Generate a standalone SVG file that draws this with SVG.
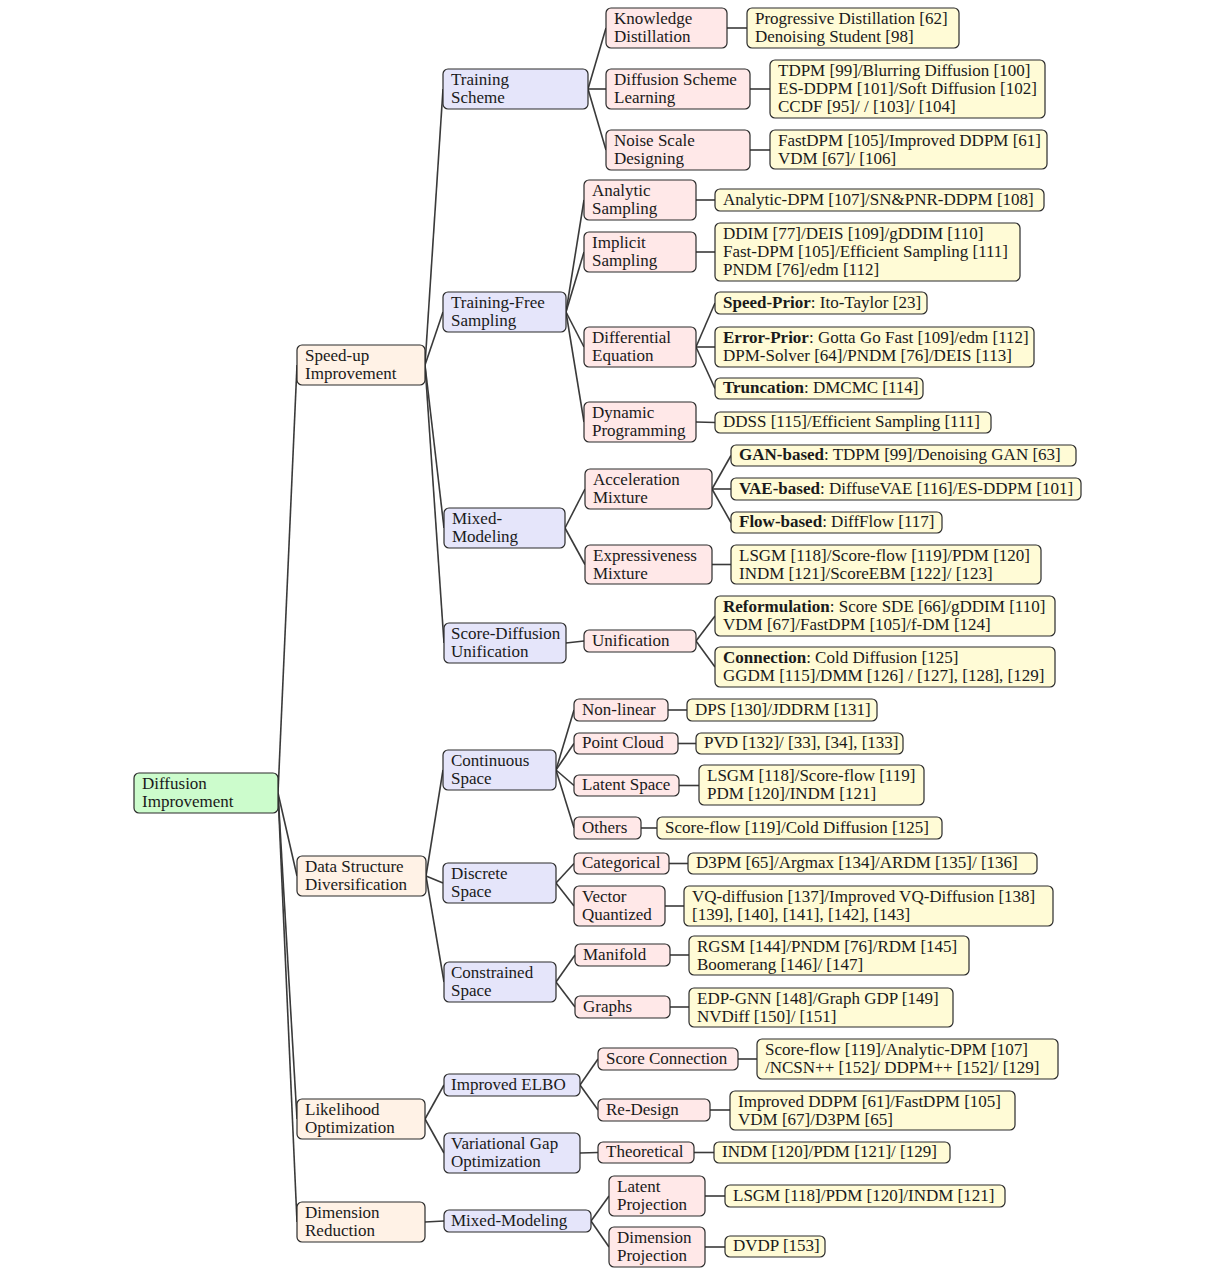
<svg xmlns="http://www.w3.org/2000/svg" width="1211" height="1274" viewBox="0 0 1211 1274">
<style>
rect{stroke:#2b2b2b;stroke-width:1.2}
.r0{fill:#ccfccc}.r1{fill:#fff2e6}.r2{fill:#e5e5fa}.r3{fill:#ffe8e8}.r4{fill:#fffbd6}
text{font-family:"Liberation Serif","Times New Roman",serif;font-size:17px;fill:#1a1a1a}
.b{font-weight:bold}
#edges line{stroke:#3a3a3a;stroke-width:1.6}
</style>
<rect x="0" y="0" width="1211" height="1274" fill="#ffffff" style="stroke:none"/>
<g id="edges">
<line x1="278" y1="793" x2="297" y2="365"/>
<line x1="278" y1="793" x2="297" y2="876"/>
<line x1="278" y1="793" x2="297" y2="1119"/>
<line x1="278" y1="793" x2="297" y2="1222"/>
<line x1="425" y1="365" x2="443" y2="89"/>
<line x1="425" y1="365" x2="443" y2="312"/>
<line x1="425" y1="365" x2="444" y2="528"/>
<line x1="425" y1="365" x2="444" y2="643"/>
<line x1="588" y1="89" x2="606" y2="28"/>
<line x1="588" y1="89" x2="606" y2="89"/>
<line x1="588" y1="89" x2="606" y2="150"/>
<line x1="727" y1="28" x2="747" y2="28"/>
<line x1="750" y1="89" x2="770" y2="89"/>
<line x1="750" y1="150" x2="770" y2="150"/>
<line x1="566" y1="312" x2="584" y2="200"/>
<line x1="566" y1="312" x2="584" y2="252"/>
<line x1="566" y1="312" x2="584" y2="347"/>
<line x1="566" y1="312" x2="584" y2="422"/>
<line x1="696" y1="200" x2="715" y2="200"/>
<line x1="696" y1="252" x2="715" y2="252"/>
<line x1="696" y1="347" x2="715" y2="303"/>
<line x1="696" y1="347" x2="715" y2="347"/>
<line x1="696" y1="347" x2="715" y2="388.5"/>
<line x1="696" y1="422" x2="715" y2="422.5"/>
<line x1="565" y1="528" x2="585" y2="489"/>
<line x1="565" y1="528" x2="585" y2="564.5"/>
<line x1="712" y1="489" x2="731" y2="455.5"/>
<line x1="712" y1="489" x2="731" y2="489"/>
<line x1="712" y1="489" x2="731" y2="522.5"/>
<line x1="712" y1="564.5" x2="731" y2="564.5"/>
<line x1="566" y1="643" x2="584" y2="641"/>
<line x1="696" y1="641" x2="715" y2="616"/>
<line x1="696" y1="641" x2="715" y2="667"/>
<line x1="426" y1="876" x2="443" y2="770"/>
<line x1="426" y1="876" x2="443" y2="883"/>
<line x1="426" y1="876" x2="444" y2="982"/>
<line x1="556" y1="770" x2="574" y2="710"/>
<line x1="556" y1="770" x2="574" y2="743.5"/>
<line x1="556" y1="770" x2="574" y2="785.5"/>
<line x1="556" y1="770" x2="574" y2="828"/>
<line x1="668" y1="710" x2="687" y2="710"/>
<line x1="678" y1="743.5" x2="696" y2="743.5"/>
<line x1="678" y1="785.5" x2="699" y2="785.5"/>
<line x1="641" y1="828" x2="657" y2="828"/>
<line x1="556" y1="883" x2="574" y2="863.5"/>
<line x1="556" y1="883" x2="574" y2="906"/>
<line x1="668" y1="863.5" x2="688" y2="863.5"/>
<line x1="665" y1="906" x2="684" y2="906"/>
<line x1="556" y1="982" x2="575" y2="955"/>
<line x1="556" y1="982" x2="575" y2="1007"/>
<line x1="670" y1="955" x2="689" y2="955"/>
<line x1="670" y1="1007" x2="689" y2="1007"/>
<line x1="425" y1="1119" x2="444" y2="1085"/>
<line x1="425" y1="1119" x2="444" y2="1153"/>
<line x1="580" y1="1085" x2="598" y2="1059"/>
<line x1="580" y1="1085" x2="598" y2="1110"/>
<line x1="738" y1="1059" x2="757" y2="1059"/>
<line x1="710" y1="1110" x2="730" y2="1110"/>
<line x1="580" y1="1153" x2="598" y2="1152.5"/>
<line x1="694" y1="1152.5" x2="714" y2="1152.5"/>
<line x1="425" y1="1222" x2="444" y2="1221"/>
<line x1="591" y1="1221" x2="609" y2="1196"/>
<line x1="591" y1="1221" x2="609" y2="1247"/>
<line x1="705" y1="1196" x2="725" y2="1196"/>
<line x1="705" y1="1247" x2="725" y2="1247"/>
</g>

<g id="root"><rect class="r0" x="134" y="773" width="144" height="40" rx="5"/><text x="142" y="788.5">Diffusion</text><text x="142" y="806.5">Improvement</text></g>

<g id="speedup"><rect class="r1" x="297" y="345" width="128" height="40" rx="5"/><text x="305" y="360.5">Speed-up</text><text x="305" y="378.5">Improvement</text></g>
<g id="datastructure"><rect class="r1" x="297" y="856" width="129" height="40" rx="5"/><text x="305" y="871.5">Data Structure</text><text x="305" y="889.5">Diversification</text></g>
<g id="likelihood"><rect class="r1" x="297" y="1099" width="128" height="40" rx="5"/><text x="305" y="1114.5">Likelihood</text><text x="305" y="1132.5">Optimization</text></g>
<g id="dimreduction"><rect class="r1" x="297" y="1202" width="128" height="40" rx="5"/><text x="305" y="1217.5">Dimension</text><text x="305" y="1235.5">Reduction</text></g>

<g id="trainingscheme"><rect class="r2" x="443" y="69" width="145" height="40" rx="5"/><text x="451" y="84.5">Training</text><text x="451" y="102.5">Scheme</text></g>
<g id="trainingfree"><rect class="r2" x="443" y="292" width="123" height="40" rx="5"/><text x="451" y="307.5">Training-Free</text><text x="451" y="325.5">Sampling</text></g>
<g id="mixedmodeling"><rect class="r2" x="444" y="508" width="121" height="40" rx="5"/><text x="452" y="523.5">Mixed-</text><text x="452" y="541.5">Modeling</text></g>
<g id="scorediffusion"><rect class="r2" x="444" y="623" width="122" height="40" rx="5"/><text x="451" y="638.5">Score-Diffusion</text><text x="451" y="656.5">Unification</text></g>
<g id="continuous"><rect class="r2" x="443" y="750" width="113" height="40" rx="5"/><text x="451" y="765.5">Continuous</text><text x="451" y="783.5">Space</text></g>
<g id="discrete"><rect class="r2" x="443" y="863" width="113" height="40" rx="5"/><text x="451" y="878.5">Discrete</text><text x="451" y="896.5">Space</text></g>
<g id="constrained"><rect class="r2" x="444" y="962" width="112" height="40" rx="5"/><text x="451" y="977.5">Constrained</text><text x="451" y="995.5">Space</text></g>
<g id="improvedelbo"><rect class="r2" x="444" y="1074" width="136" height="22" rx="5"/><text x="451" y="1089.5">Improved ELBO</text></g>
<g id="variationalgap"><rect class="r2" x="444" y="1133" width="136" height="40" rx="5"/><text x="451" y="1148.5">Variational Gap</text><text x="451" y="1166.5">Optimization</text></g>
<g id="mixedmodeling2"><rect class="r2" x="444" y="1210" width="147" height="22" rx="5"/><text x="451" y="1225.5">Mixed-Modeling</text></g>

<g id="knowledge"><rect class="r3" x="606" y="8" width="121" height="40" rx="5"/><text x="614" y="23.5">Knowledge</text><text x="614" y="41.5">Distillation</text></g>
<g id="diffscheme"><rect class="r3" x="606" y="69" width="144" height="40" rx="5"/><text x="614" y="84.5">Diffusion Scheme</text><text x="614" y="102.5">Learning</text></g>
<g id="noisescale"><rect class="r3" x="606" y="130" width="144" height="40" rx="5"/><text x="614" y="145.5">Noise Scale</text><text x="614" y="163.5">Designing</text></g>
<g id="analytic"><rect class="r3" x="584" y="180" width="112" height="40" rx="5"/><text x="592" y="195.5">Analytic</text><text x="592" y="213.5">Sampling</text></g>
<g id="implicit"><rect class="r3" x="584" y="232" width="112" height="40" rx="5"/><text x="592" y="247.5">Implicit</text><text x="592" y="265.5">Sampling</text></g>
<g id="differential"><rect class="r3" x="584" y="327" width="112" height="40" rx="5"/><text x="592" y="342.5">Differential</text><text x="592" y="360.5">Equation</text></g>
<g id="dynamic"><rect class="r3" x="584" y="402" width="112" height="40" rx="5"/><text x="592" y="417.5">Dynamic</text><text x="592" y="435.5">Programming</text></g>
<g id="acceleration"><rect class="r3" x="585" y="469" width="127" height="40" rx="5"/><text x="593" y="484.5">Acceleration</text><text x="593" y="502.5">Mixture</text></g>
<g id="expressiveness"><rect class="r3" x="585" y="545" width="127" height="39" rx="5"/><text x="593" y="560.5">Expressiveness</text><text x="593" y="578.5">Mixture</text></g>
<g id="unification"><rect class="r3" x="584" y="630" width="112" height="22" rx="5"/><text x="592" y="645.5">Unification</text></g>
<g id="nonlinear"><rect class="r3" x="574" y="699" width="94" height="22" rx="5"/><text x="582" y="714.5">Non-linear</text></g>
<g id="pointcloud"><rect class="r3" x="574" y="733" width="104" height="21" rx="5"/><text x="582" y="748">Point Cloud</text></g>
<g id="latentspace"><rect class="r3" x="574" y="775" width="105" height="21" rx="5"/><text x="582" y="790">Latent Space</text></g>
<g id="others"><rect class="r3" x="574" y="817" width="67" height="22" rx="5"/><text x="582" y="832.5">Others</text></g>
<g id="categorical"><rect class="r3" x="574" y="853" width="95" height="21" rx="5"/><text x="582" y="868">Categorical</text></g>
<g id="vectorquantized"><rect class="r3" x="574" y="886" width="91" height="40" rx="5"/><text x="582" y="901.5">Vector</text><text x="582" y="919.5">Quantized</text></g>
<g id="manifold"><rect class="r3" x="575" y="944" width="95" height="22" rx="5"/><text x="583" y="959.5">Manifold</text></g>
<g id="graphs"><rect class="r3" x="575" y="996" width="95" height="22" rx="5"/><text x="583" y="1011.5">Graphs</text></g>
<g id="scoreconnection"><rect class="r3" x="598" y="1048" width="140" height="22" rx="5"/><text x="606" y="1063.5">Score Connection</text></g>
<g id="redesign"><rect class="r3" x="598" y="1099" width="112" height="22" rx="5"/><text x="606" y="1114.5">Re-Design</text></g>
<g id="theoretical"><rect class="r3" x="598" y="1142" width="96" height="21" rx="5"/><text x="606" y="1157">Theoretical</text></g>
<g id="latentprojection"><rect class="r3" x="609" y="1176" width="96" height="40" rx="5"/><text x="617" y="1191.5">Latent</text><text x="617" y="1209.5">Projection</text></g>
<g id="dimprojection"><rect class="r3" x="609" y="1227" width="96" height="40" rx="5"/><text x="617" y="1242.5">Dimension</text><text x="617" y="1260.5">Projection</text></g>

<g id="leaf-kd"><rect class="r4" x="747" y="8" width="212" height="40" rx="5"/><text x="755" y="23.5">Progressive Distillation [62]</text><text x="755" y="41.5">Denoising Student [98]</text></g>
<g id="leaf-dsl"><rect class="r4" x="770" y="60" width="275" height="58" rx="5"/><text x="778" y="75.5">TDPM [99]/Blurring Diffusion [100]</text><text x="778" y="93.5">ES-DDPM [101]/Soft Diffusion [102]</text><text x="778" y="111.5">CCDF [95]/ / [103]/ [104]</text></g>
<g id="leaf-nsd"><rect class="r4" x="770" y="130" width="277" height="39" rx="5"/><text x="778" y="145.5">FastDPM [105]/Improved DDPM [61]</text><text x="778" y="163.5">VDM [67]/ [106]</text></g>
<g id="leaf-as"><rect class="r4" x="715" y="189" width="329" height="22" rx="5"/><text x="723" y="204.5">Analytic-DPM [107]/SN&amp;PNR-DDPM [108]</text></g>
<g id="leaf-is"><rect class="r4" x="715" y="223" width="305" height="58" rx="5"/><text x="723" y="238.5">DDIM [77]/DEIS [109]/gDDIM [110]</text><text x="723" y="256.5">Fast-DPM [105]/Efficient Sampling [111]</text><text x="723" y="274.5">PNDM [76]/edm [112]</text></g>
<g id="leaf-sp"><rect class="r4" x="715" y="292" width="212" height="22" rx="5"/><text x="723" y="307.5"><tspan class="b">Speed-Prior</tspan>: Ito-Taylor [23]</text></g>
<g id="leaf-ep"><rect class="r4" x="715" y="327" width="319" height="40" rx="5"/><text x="723" y="342.5"><tspan class="b">Error-Prior</tspan>: Gotta Go Fast [109]/edm [112]</text><text x="723" y="360.5">DPM-Solver [64]/PNDM [76]/DEIS [113]</text></g>
<g id="leaf-tr"><rect class="r4" x="715" y="378" width="208" height="21" rx="5"/><text x="723" y="393"><tspan class="b">Truncation</tspan>: DMCMC [114]</text></g>
<g id="leaf-dp"><rect class="r4" x="715" y="412" width="276" height="21" rx="5"/><text x="723" y="427">DDSS [115]/Efficient Sampling [111]</text></g>
<g id="leaf-gan"><rect class="r4" x="731" y="445" width="345" height="21" rx="5"/><text x="739" y="460"><tspan class="b">GAN-based</tspan>: TDPM [99]/Denoising GAN [63]</text></g>
<g id="leaf-vae"><rect class="r4" x="731" y="478" width="350" height="22" rx="5"/><text x="739" y="493.5"><tspan class="b">VAE-based</tspan>: DiffuseVAE [116]/ES-DDPM [101]</text></g>
<g id="leaf-flow"><rect class="r4" x="731" y="512" width="211" height="21" rx="5"/><text x="739" y="527"><tspan class="b">Flow-based</tspan>: DiffFlow [117]</text></g>
<g id="leaf-em"><rect class="r4" x="731" y="545" width="310" height="39" rx="5"/><text x="739" y="560.5">LSGM [118]/Score-flow [119]/PDM [120]</text><text x="739" y="578.5">INDM [121]/ScoreEBM [122]/ [123]</text></g>
<g id="leaf-ref"><rect class="r4" x="715" y="596" width="340" height="40" rx="5"/><text x="723" y="611.5"><tspan class="b">Reformulation</tspan>: Score SDE [66]/gDDIM [110]</text><text x="723" y="629.5">VDM [67]/FastDPM [105]/f-DM [124]</text></g>
<g id="leaf-con"><rect class="r4" x="715" y="647" width="340" height="40" rx="5"/><text x="723" y="662.5"><tspan class="b">Connection</tspan>: Cold Diffusion [125]</text><text x="723" y="680.5">GGDM [115]/DMM [126] / [127], [128], [129]</text></g>
<g id="leaf-nl"><rect class="r4" x="687" y="699" width="190" height="22" rx="5"/><text x="695" y="714.5">DPS [130]/JDDRM [131]</text></g>
<g id="leaf-pc"><rect class="r4" x="696" y="733" width="207" height="21" rx="5"/><text x="704" y="748">PVD [132]/ [33], [34], [133]</text></g>
<g id="leaf-ls"><rect class="r4" x="699" y="765" width="225" height="40" rx="5"/><text x="707" y="780.5">LSGM [118]/Score-flow [119]</text><text x="707" y="798.5">PDM [120]/INDM [121]</text></g>
<g id="leaf-oth"><rect class="r4" x="657" y="817" width="285" height="22" rx="5"/><text x="665" y="832.5">Score-flow [119]/Cold Diffusion [125]</text></g>
<g id="leaf-cat"><rect class="r4" x="688" y="853" width="349" height="21" rx="5"/><text x="696" y="868">D3PM [65]/Argmax [134]/ARDM [135]/ [136]</text></g>
<g id="leaf-vq"><rect class="r4" x="684" y="886" width="369" height="40" rx="5"/><text x="692" y="901.5">VQ-diffusion [137]/Improved VQ-Diffusion [138]</text><text x="692" y="919.5">[139], [140], [141], [142], [143]</text></g>
<g id="leaf-man"><rect class="r4" x="689" y="936" width="280" height="39" rx="5"/><text x="697" y="951.5">RGSM [144]/PNDM [76]/RDM [145]</text><text x="697" y="969.5">Boomerang [146]/ [147]</text></g>
<g id="leaf-gr"><rect class="r4" x="689" y="988" width="264" height="39" rx="5"/><text x="697" y="1003.5">EDP-GNN [148]/Graph GDP [149]</text><text x="697" y="1021.5">NVDiff [150]/ [151]</text></g>
<g id="leaf-sc"><rect class="r4" x="757" y="1039" width="301" height="40" rx="5"/><text x="765" y="1054.5">Score-flow [119]/Analytic-DPM [107]</text><text x="765" y="1072.5">/NCSN++ [152]/ DDPM++ [152]/ [129]</text></g>
<g id="leaf-rd"><rect class="r4" x="730" y="1091" width="285" height="39" rx="5"/><text x="738" y="1106.5">Improved DDPM [61]/FastDPM [105]</text><text x="738" y="1124.5">VDM [67]/D3PM [65]</text></g>
<g id="leaf-th"><rect class="r4" x="714" y="1142" width="236" height="21" rx="5"/><text x="722" y="1157">INDM [120]/PDM [121]/ [129]</text></g>
<g id="leaf-lp"><rect class="r4" x="725" y="1185" width="280" height="22" rx="5"/><text x="733" y="1200.5">LSGM [118]/PDM [120]/INDM [121]</text></g>
<g id="leaf-dvdp"><rect class="r4" x="725" y="1236" width="100" height="21" rx="5"/><text x="733" y="1251">DVDP [153]</text></g>
</svg>
